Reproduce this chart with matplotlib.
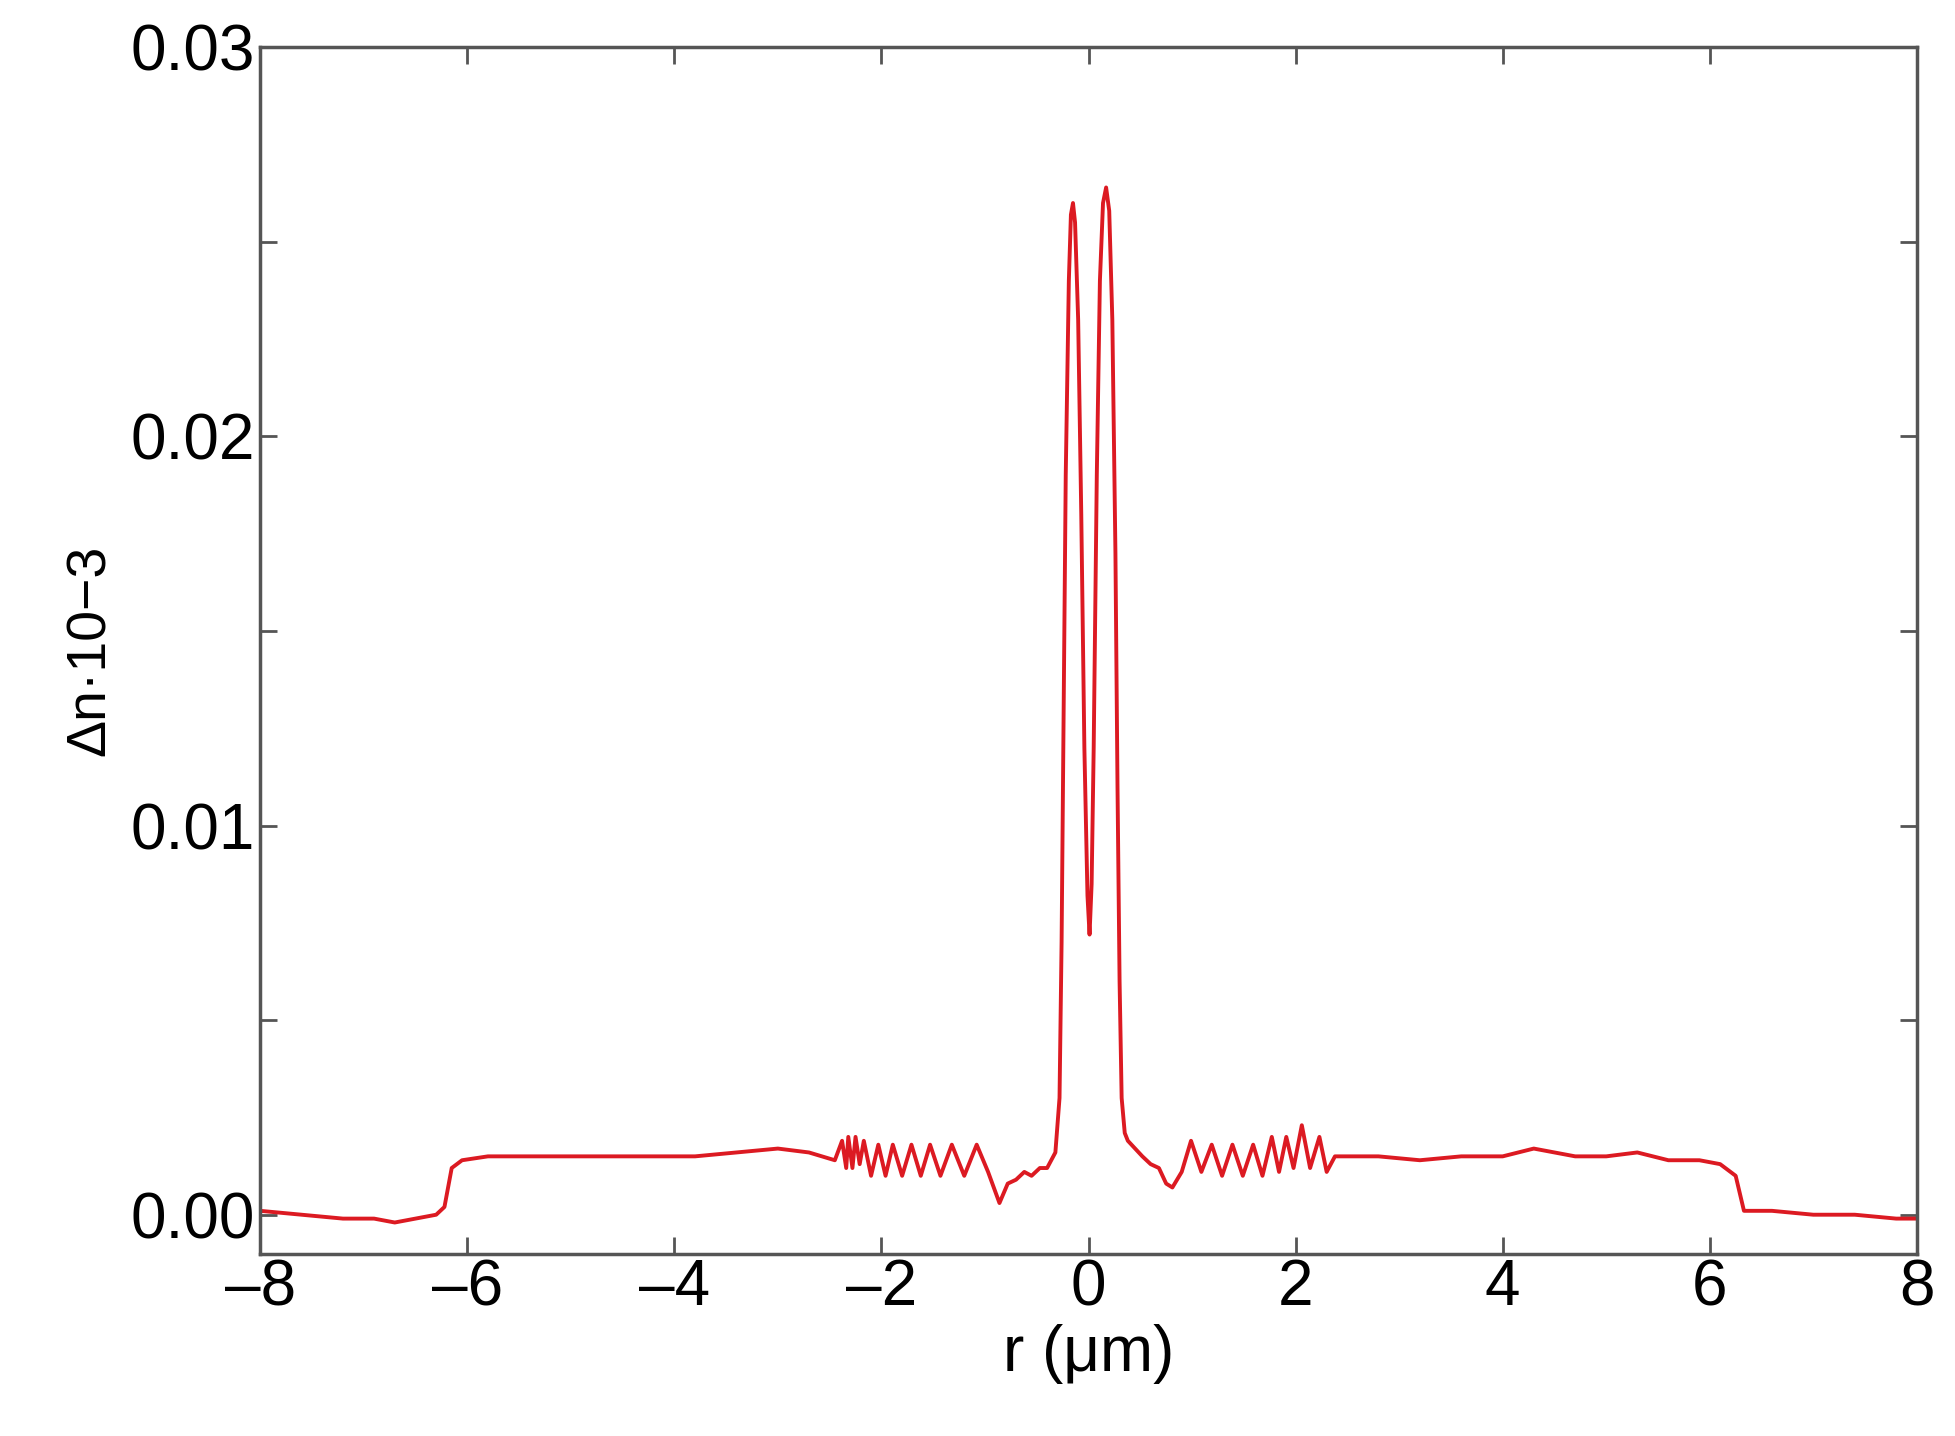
import numpy as np
import matplotlib.pyplot as plt

plt.rcParams["font.family"] = ["Liberation Sans", "DejaVu Sans"]

# radial position (um) and index change
r = [-8.0, -7.6, -7.2, -6.9, -6.7, -6.5, -6.3, -6.22, -6.15, -6.05, -5.8, -5.4, -5.0,
     -4.6, -4.2, -3.8, -3.4, -3.0, -2.7, -2.45,
     -2.38, -2.34, -2.32, -2.28, -2.25, -2.21, -2.17, -2.10, -2.03, -1.96, -1.89,
     -1.80, -1.71, -1.62, -1.53, -1.43, -1.32, -1.20, -1.08, -0.97, -0.86,
     -0.78, -0.70, -0.62, -0.55, -0.47, -0.40, -0.32, -0.28, -0.26, -0.24, -0.22,
     -0.19, -0.17, -0.15, -0.13, -0.10, -0.07, -0.04, -0.01, 0.01, 0.03, 0.05,
     0.08, 0.11, 0.14, 0.17, 0.20, 0.23, 0.26, 0.28, 0.30, 0.32, 0.35,
     0.38, 0.45, 0.52, 0.60, 0.68, 0.75, 0.81, 0.90,
     0.99, 1.09, 1.19, 1.29, 1.39, 1.49, 1.59, 1.68, 1.77, 1.84, 1.91, 1.98,
     2.06, 2.14, 2.23, 2.30, 2.38, 2.5, 2.8, 3.2, 3.6, 4.0, 4.3, 4.7, 5.0,
     5.3, 5.6, 5.9, 6.1, 6.25, 6.33, 6.4, 6.6, 7.0, 7.4, 7.8, 8.0]
dn = [0.0001, 0.0000, -0.0001, -0.0001, -0.0002, -0.0001, 0.0000, 0.0002, 0.0012, 0.0014, 0.0015, 0.0015, 0.0015,
      0.0015, 0.0015, 0.0015, 0.0016, 0.0017, 0.0016, 0.0014,
      0.0019, 0.0012, 0.0020, 0.0012, 0.0020, 0.0013, 0.0019, 0.0010, 0.0018, 0.0010, 0.0018,
      0.0010, 0.0018, 0.0010, 0.0018, 0.0010, 0.0018, 0.0010, 0.0018, 0.0011, 0.0003,
      0.0008, 0.0009, 0.0011, 0.0010, 0.0012, 0.0012, 0.0016, 0.0030, 0.0070, 0.0130, 0.0190,
      0.0240, 0.0257, 0.0260, 0.0255, 0.0230, 0.0180, 0.0120, 0.0082, 0.0072, 0.0085, 0.0120,
      0.0190, 0.0240, 0.0260, 0.0264, 0.0258, 0.0230, 0.0170, 0.0110, 0.0060, 0.0030, 0.0021,
      0.0019, 0.0017, 0.0015, 0.0013, 0.0012, 0.0008, 0.0007, 0.0011,
      0.0019, 0.0011, 0.0018, 0.0010, 0.0018, 0.0010, 0.0018, 0.0010, 0.0020, 0.0011, 0.0020, 0.0012,
      0.0023, 0.0012, 0.0020, 0.0011, 0.0015, 0.0015, 0.0015, 0.0014, 0.0015, 0.0015, 0.0017, 0.0015, 0.0015,
      0.0016, 0.0014, 0.0014, 0.0013, 0.0010, 0.0001, 0.0001, 0.0001, 0.0000, 0.0000, -0.0001, -0.0001]

fig = plt.figure(figsize=(19.56, 14.36), dpi=100)
ax = fig.add_axes([0.133, 0.127, 0.847, 0.840])

ax.plot(r, dn, color="#dc1a22", linewidth=2.8, solid_joinstyle="round")

ax.set_xlim(-8, 8)
ax.set_ylim(-0.001, 0.03)
ax.set_xticks(np.arange(-8, 9, 2))
ax.set_xticklabels([("\u2013" + str(-v)) if v < 0 else str(v) for v in range(-8, 9, 2)])
ax.set_yticks([0.0, 0.01, 0.02, 0.03])
ax.set_yticklabels(["0.00", "0.01", "0.02", "0.03"])
ax.set_yticks([0.005, 0.015, 0.025], minor=True)

ax.tick_params(which="both", direction="in", top=True, right=True,
               color="#555555", labelsize=46, width=2, length=12)
for sp in ax.spines.values():
    sp.set_color("#555555")
    sp.set_linewidth(2.5)

ax.set_xlabel("r (\u03bcm)", fontsize=46, labelpad=4)
ax.set_ylabel("\u0394n\u00b710\u22123", fontsize=40, labelpad=10)

fig.savefig("out.png", dpi=100)
